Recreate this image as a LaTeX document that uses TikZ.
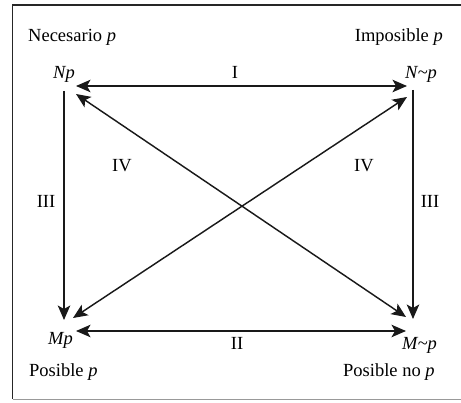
\documentclass[tikz,border=0pt]{standalone}
\usepackage{fontspec}
\setmainfont{Liberation Serif}
\usetikzlibrary{arrows.meta}
\begin{document}
\begin{tikzpicture}[x=1pt,y=-1pt,
  lbl/.style={font=\fontsize{18.5}{20}\selectfont, inner sep=0pt},
  frame/.style={line width=1.1pt, draw=black!85},
  conn/.style={line width=1.45pt, draw=black!90},
  tip/.style={-{Stealth[length=14.5pt,width=12.5pt,inset=3.5pt]}},
  both/.style={{Stealth[length=14.5pt,width=12.5pt,inset=3.5pt]}-{Stealth[length=14.5pt,width=12.5pt,inset=3.5pt]}}]
\useasboundingbox (0,0) rectangle (461,403);
% frame
\draw[frame] (461,5) -- (12.5,5) -- (12.5,399.5);
\draw[line width=1.1pt, draw=black!40] (12.5,399.5) -- (461,399.5);
% labels
\node[lbl, anchor=base west] (nec) at (28,41.7) {Necesario \textit{p}};
\node[lbl, anchor=base east] (imp) at (443,41.7) {Imposible \textit{p}};
\node[lbl, anchor=base west] (Np) at (53,79) {\textit{Np}};
\node[lbl, anchor=base west] (NNp) at (405,79) {\textit{N\char"007Ep}};
\node[lbl, anchor=base west] (Mp) at (48,345) {\textit{Mp}};
\node[lbl, anchor=base west] (MNp) at (402,350) {\textit{M\char"007Ep}};
\node[lbl, anchor=base west] (posp) at (29,377) {Posible \textit{p}};
\node[lbl, anchor=base west] (posnop) at (343,377) {Posible no \textit{p}};
\node[lbl, anchor=base] (lI) at (235,79) {I};
\node[lbl, anchor=base] (lII) at (237,350) {II};
\node[lbl, anchor=base] (lIIIa) at (46,208) {III};
\node[lbl, anchor=base] (lIIIb) at (430,208) {III};
\node[lbl, anchor=base] (lIVa) at (122,172) {IV};
\node[lbl, anchor=base] (lIVb) at (364,172) {IV};
% connector end points
\coordinate (aT1) at (76,86);
\coordinate (aT2) at (407,86);
\coordinate (aB1) at (76,331);
\coordinate (aB2) at (406,331);
\coordinate (aL1) at (64,91);
\coordinate (aL2) at (64,320);
\coordinate (aR1) at (413,90);
\coordinate (aR2) at (413,319);
\coordinate (d1a) at (76,94);
\coordinate (d1b) at (406,317);
\coordinate (d2a) at (407,97);
\coordinate (d2b) at (73,318);
% connectors
\draw[conn, both] (aT1) -- (aT2);
\draw[conn, both] (aB1) -- (aB2);
\draw[conn, tip] (aL1) -- (aL2);
\draw[conn, tip] (aR1) -- (aR2);
\draw[conn, both] (d1a) -- (d1b);
\draw[conn, both] (d2a) -- (d2b);
\end{tikzpicture}
\end{document}
